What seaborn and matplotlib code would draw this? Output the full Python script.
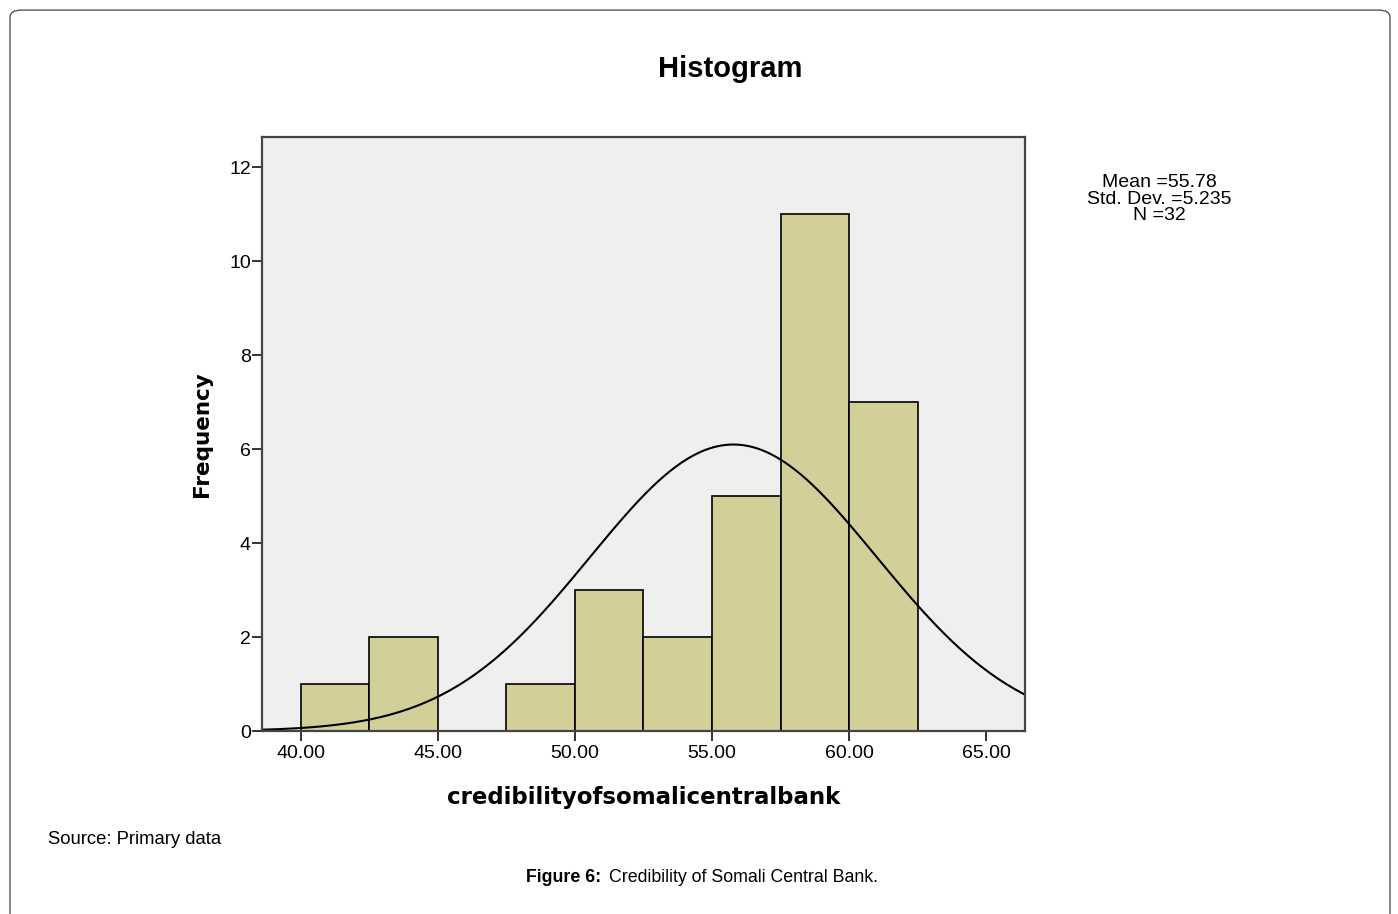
import numpy as np
import pandas as pd
import seaborn as sns
import matplotlib.pyplot as plt
from matplotlib.patches import FancyBboxPatch

# histogram bins (width 2.5) and counts
bin_edges = [40.0, 42.5, 45.0, 47.5, 50.0, 52.5, 55.0, 57.5, 60.0, 62.5]
counts = [1, 2, 0, 1, 3, 2, 5, 11, 7]

mean_val = 55.78
std_val = 5.235
n_obs = 32

x_ticks = [40, 45, 50, 55, 60, 65]
x_tick_labels = ["40.00", "45.00", "50.00", "55.00", "60.00", "65.00"]
y_ticks = [0, 2, 4, 6, 8, 10, 12]

sns.set_style("white")
plt.rcParams['font.family'] = ['Liberation Sans', 'DejaVu Sans']
plt.rcParams['text.color'] = 'black'
plt.rcParams['axes.labelcolor'] = 'black'
plt.rcParams['xtick.color'] = 'black'
plt.rcParams['ytick.color'] = 'black'

fig = plt.figure(figsize=(13.98, 9.14), dpi=100)
ax = fig.add_axes([0.1874, 0.2002, 0.5458, 0.6499])
ax.set_facecolor("#f0eff0")

centers = [(bin_edges[i] + bin_edges[i + 1]) / 2 for i in range(len(counts))]
df = pd.DataFrame({"value": centers, "count": counts})
sns.histplot(data=df, x="value", weights="count", bins=bin_edges, ax=ax,
             color="#d3cf98", alpha=1.0, edgecolor="black", linewidth=1.2)

# fitted normal curve scaled to counts
xlo, xhi = 38.58, 66.42
xs = np.linspace(xlo, xhi, 400)
binw = bin_edges[1] - bin_edges[0]
ys = n_obs * binw / (std_val * np.sqrt(2 * np.pi)) * np.exp(-0.5 * ((xs - mean_val) / std_val) ** 2)
sns.lineplot(x=xs, y=ys, ax=ax, color="black", linewidth=1.5)

ax.set_xlim(xlo, xhi)
ax.set_ylim(0, 12.64)
ax.set_xticks(x_ticks)
ax.set_xticklabels(x_tick_labels)
ax.set_yticks(y_ticks)
ax.tick_params(axis="x", direction="out", length=7, width=1.4, color="#333333",
               labelsize=14, pad=3, bottom=True)
ax.tick_params(axis="y", direction="out", length=7, width=1.4, color="#333333",
               labelsize=14, pad=1, left=True)
for s in ax.spines.values():
    s.set_color("#444444")
    s.set_linewidth(1.6)

ax.set_xlabel("credibilityofsomalicentralbank", fontsize=16.5, fontweight="bold",
              family="DejaVu Sans", labelpad=17)
ax.set_ylabel("Frequency", fontsize=15.5, fontweight="bold", family="DejaVu Sans",
              labelpad=12)

fig.text(0.5222, 1 - 69 / 914, "Histogram", ha="center", va="center",
         fontsize=21, fontweight="bold")
fig.text(1159 / 1398, 1 - 199 / 914, "Mean =55.78\nStd. Dev. =5.235\nN =32",
         ha="center", va="center", fontsize=14, linespacing=0.98)
fig.text(48 / 1398, 1 - 839 / 914, "Source: Primary data", ha="left", va="center", fontsize=13.3)
fig.text(526 / 1398, 1 - 878 / 914, "Figure 6:", ha="left", va="center",
         fontsize=12.8, fontweight="bold")
fig.text(609 / 1398, 1 - 878 / 914, "Credibility of Somali Central Bank.", ha="left",
         va="center", fontsize=12.8)

border = FancyBboxPatch((10 / 1398, -0.02), 1380 / 1398, (914 - 10) / 914 + 0.02 - 0.0001,
                        boxstyle="round,pad=0,rounding_size=0.008", transform=fig.transFigure,
                        facecolor="none", edgecolor="#555555", linewidth=1.0, clip_on=False)
fig.patches.append(border)

fig.savefig("out.png", dpi=100)
